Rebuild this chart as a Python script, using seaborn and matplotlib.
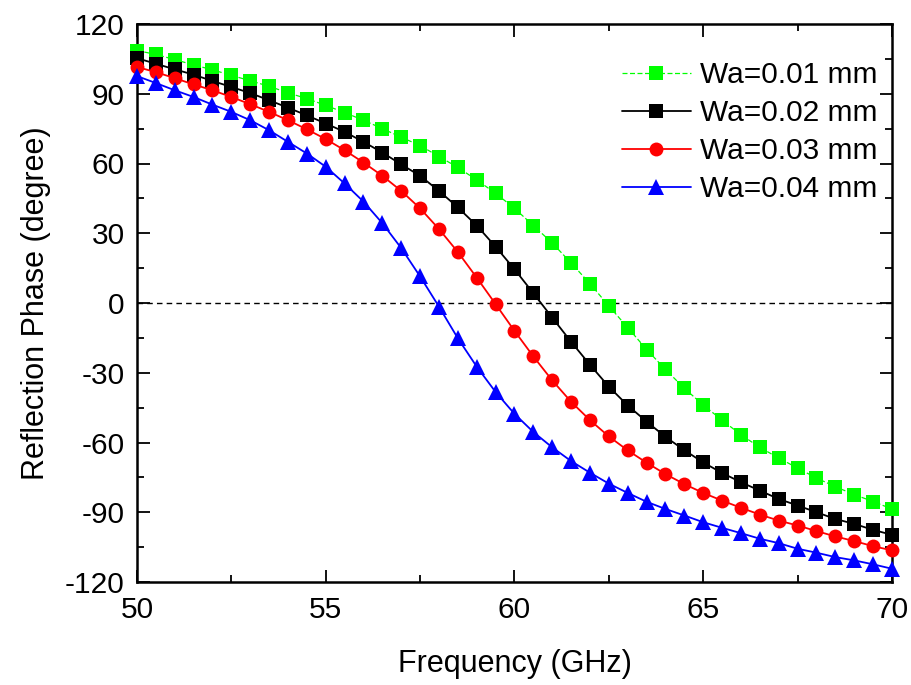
import numpy as np
import pandas as pd
import matplotlib
matplotlib.use("Agg")
import matplotlib.pyplot as plt
import seaborn as sns
from matplotlib.ticker import MultipleLocator

# ---- data ----
freq = np.arange(50, 70.01, 0.5)
labels = ["Wa=0.01 mm", "Wa=0.02 mm", "Wa=0.03 mm", "Wa=0.04 mm"]

wa001 = [108.6, 106.9, 104.7, 102.4, 100.3, 97.9, 95.6, 93.2, 90.4, 87.9, 85.0, 81.9, 78.6, 75.0, 71.3,
         67.7, 63.0, 58.3, 52.9, 47.2, 40.7, 33.3, 25.8, 17.2, 8.3, -1.3, -10.6, -20.0,
         -28.6, -36.7, -43.9, -50.4, -56.7, -62.1, -66.7, -71.0, -75.3, -79.0, -82.4, -85.4, -88.6]
wa002 = [105.3, 102.9, 100.5, 98.2, 95.5, 92.9, 90.3, 87.2, 84.0, 80.7, 77.2, 73.6, 69.3, 64.7, 59.6,
         54.7, 48.2, 41.1, 33.3, 24.2, 14.5, 4.2, -6.3, -16.7, -26.6, -36.0, -44.1, -51.0,
         -57.6, -63.3, -68.6, -73.1, -77.1, -80.7, -84.3, -87.1, -90.0, -92.9, -95.0, -97.6, -99.7]
wa003 = [101.5, 99.3, 96.7, 94.0, 91.5, 88.6, 85.5, 82.2, 78.6, 74.7, 70.5, 65.7, 60.4, 54.7, 48.2,
         40.7, 31.8, 21.9, 10.9, -0.5, -12.0, -23.0, -33.3, -42.5, -50.4, -57.4, -63.4, -68.7,
         -73.6, -77.9, -81.7, -85.0, -88.1, -91.0, -93.6, -95.7, -98.1, -100.4, -102.4, -104.6, -106.4]
wa004 = [97.6, 94.6, 91.5, 88.6, 85.3, 82.2, 78.6, 74.3, 69.3, 64.3, 58.6, 51.4, 43.6, 34.3, 23.6,
         11.4, -1.6, -15.2, -27.4, -38.3, -47.7, -55.5, -62.1, -68.0, -73.0, -77.7, -81.7, -85.5,
         -88.6, -91.4, -94.3, -96.7, -99.0, -101.4, -103.3, -105.7, -107.4, -109.3, -110.7, -112.4, -114.3]

series = [wa001, wa002, wa003, wa004]
colors = ["#00FF00", "#000000", "#FF0000", "#0000FF"]
markers = ["s", "s", "o", "^"]
msizes = [9.5, 9.5, 10, 11]
lstyles = [(0, (4, 2)), "-", "-", "-"]
lwidths = [0.9, 1.3, 1.3, 1.3]

sns.set_theme(style="ticks")
plt.rcParams["font.family"] = ["Liberation Sans", "DejaVu Sans"]
plt.rcParams["axes.unicode_minus"] = False
plt.rcParams["text.color"] = "black"
plt.rcParams["axes.labelcolor"] = "black"
plt.rcParams["xtick.color"] = "black"
plt.rcParams["ytick.color"] = "black"

fig = plt.figure(figsize=(9.12, 6.85), dpi=100)
ax = fig.add_axes([137 / 912, 1 - 582 / 685, (892 - 137) / 912, (582 - 24) / 685])

for lab, vals, c, m, ms, ls, lw in zip(labels, series, colors, markers, msizes, lstyles, lwidths):
    df = pd.DataFrame({"Frequency": freq, "Phase": vals})
    sns.lineplot(data=df, x="Frequency", y="Phase", ax=ax, color=c, marker=m,
                 markersize=ms, markeredgewidth=0, linestyle=ls, linewidth=lw,
                 label=lab, clip_on=False, zorder=3)

ax.axhline(0, color="black", linestyle=(0, (4, 3)), linewidth=1.0, zorder=2)

ax.set_xlim(50, 70)
ax.set_ylim(-120, 120)
ax.xaxis.set_major_locator(MultipleLocator(5))
ax.xaxis.set_minor_locator(MultipleLocator(2.5))
ax.yaxis.set_major_locator(MultipleLocator(30))
ax.yaxis.set_minor_locator(MultipleLocator(15))

ax.tick_params(which="both", direction="in", top=True, right=True, width=1.3, colors="black")
ax.tick_params(which="major", length=9, labelsize=21.5)
ax.tick_params(axis="x", which="major", pad=10)
ax.tick_params(axis="y", which="major", pad=9)
ax.tick_params(which="minor", length=5)
for s in ax.spines.values():
    s.set_linewidth(1.8)
    s.set_color("black")

ax.set_xlabel("Frequency (GHz)", fontsize=22, labelpad=18, color="black")
ax.set_ylabel("Reflection Phase (degree)", fontsize=22, labelpad=10, color="black")

leg = ax.legend(loc="upper right", frameon=False, fontsize=21.5, handlelength=2.3,
                handletextpad=0.3, labelspacing=0.33, borderaxespad=0.2,
                bbox_to_anchor=(1.004, 0.965))
for t in leg.get_texts():
    t.set_color("black")

fig.savefig("out.png", dpi=100)
